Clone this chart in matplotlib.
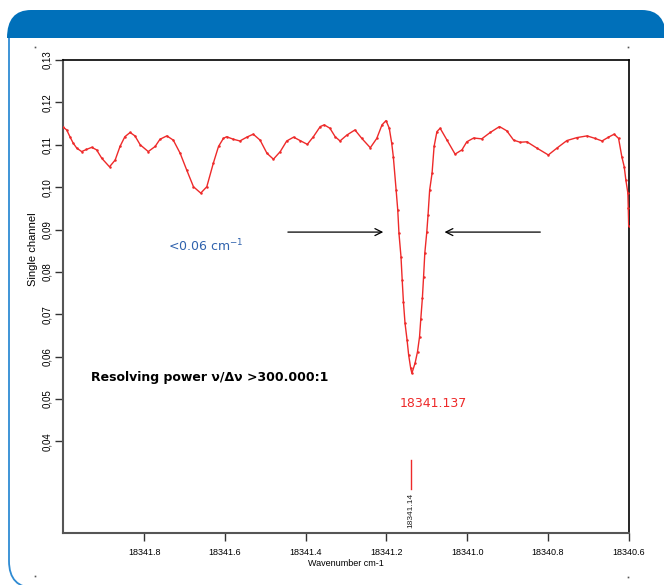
import matplotlib
matplotlib.use("Agg")
import matplotlib.pyplot as plt
from matplotlib.path import Path
from matplotlib.patches import PathPatch
from matplotlib.lines import Line2D
from matplotlib.transforms import IdentityTransform

# spectrum (wavenumber in cm-1, single channel signal)
wavenumber = [
    18342.000, 18341.992, 18341.984, 18341.976, 18341.967, 18341.955, 18341.943,
    18341.930, 18341.918, 18341.905, 18341.886, 18341.872, 18341.860, 18341.848,
    18341.835, 18341.823, 18341.810, 18341.790, 18341.773, 18341.761, 18341.744,
    18341.728, 18341.711, 18341.695, 18341.678, 18341.660, 18341.645, 18341.629,
    18341.616, 18341.604, 18341.596, 18341.579, 18341.563, 18341.546, 18341.530,
    18341.513, 18341.496, 18341.480, 18341.463, 18341.447, 18341.430, 18341.414,
    18341.396, 18341.381, 18341.364, 18341.354, 18341.340, 18341.327, 18341.315,
    18341.298, 18341.278, 18341.261, 18341.240, 18341.224, 18341.211, 18341.201,
    18341.193, 18341.187, 18341.183, 18341.176, 18341.172, 18341.169, 18341.164,
    18341.161, 18341.158, 18341.154, 18341.149, 18341.145, 18341.140, 18341.137,
    18341.129, 18341.123, 18341.118, 18341.115, 18341.111, 18341.108, 18341.105,
    18341.100, 18341.097, 18341.093, 18341.087, 18341.082, 18341.075, 18341.067,
    18341.050, 18341.030, 18341.013, 18341.001, 18340.984, 18340.964, 18340.943,
    18340.920, 18340.902, 18340.885, 18340.869, 18340.852, 18340.827, 18340.799,
    18340.778, 18340.753, 18340.728, 18340.703, 18340.683, 18340.666, 18340.650,
    18340.636, 18340.625, 18340.617, 18340.611, 18340.607, 18340.602, 18340.601,
    18340.600,
]
signal = [
    0.1141, 0.1135, 0.1119, 0.1104, 0.1092, 0.1084, 0.1089,
    0.1094, 0.1088, 0.1068, 0.1048, 0.1064, 0.1096, 0.1119,
    0.1129, 0.1121, 0.1100, 0.1084, 0.1096, 0.1113, 0.1121,
    0.1111, 0.1080, 0.1041, 0.1001, 0.0986, 0.1001, 0.1056,
    0.1096, 0.1115, 0.1119, 0.1113, 0.1109, 0.1118, 0.1125,
    0.1111, 0.1080, 0.1066, 0.1084, 0.1109, 0.1118, 0.1110,
    0.1101, 0.1119, 0.1143, 0.1147, 0.1139, 0.1119, 0.1109,
    0.1123, 0.1135, 0.1115, 0.1093, 0.1115, 0.1147, 0.1157,
    0.1139, 0.1104, 0.1072, 0.0993, 0.0946, 0.0891, 0.0836,
    0.0781, 0.0730, 0.0679, 0.0640, 0.0604, 0.0573, 0.0561,
    0.0585, 0.0612, 0.0647, 0.0688, 0.0738, 0.0789, 0.0844,
    0.0895, 0.0934, 0.0993, 0.1033, 0.1096, 0.1131, 0.1139,
    0.1111, 0.1078, 0.1088, 0.1107, 0.1116, 0.1114, 0.1129,
    0.1143, 0.1133, 0.1111, 0.1106, 0.1107, 0.1092, 0.1076,
    0.1092, 0.1110, 0.1117, 0.1121, 0.1115, 0.1109, 0.1118,
    0.1125, 0.1115, 0.1072, 0.1048, 0.1017, 0.0986, 0.0950,
    0.0909,
]

x_ticks = [18341.8, 18341.6, 18341.4, 18341.2, 18341.0, 18340.8, 18340.6]
x_tick_labels = ["18341.8", "18341.6", "18341.4", "18341.2", "18341.0", "18340.8", "18340.6"]
y_ticks = [0.04, 0.05, 0.06, 0.07, 0.08, 0.09, 0.10, 0.11, 0.12, 0.13]
y_tick_labels = ["0,04", "0,05", "0,06", "0,07", "0,08", "0,09", "0,10", "0,11", "0,12", "0,13"]

peak_pos = 18341.137
peak_label = "18341.137"
marker_pos = 18341.14
marker_label = "18341.14"
width_label = "<0.06 cm$^{-1}$"
power_label = "Resolving power ν/Δν >300.000:1"

RED = "#ee2a2a"
BLUE = "#0070ba"

fig = plt.figure(figsize=(6.64, 5.85), dpi=100)
fig.patch.set_facecolor("white")

# --- card frame (pixels, origin bottom-left) ---
M, L, C, Z = Path.MOVETO, Path.LINETO, Path.CURVE3, Path.CLOSEPOLY
header = Path([(7, 547), (7, 575), (31, 575), (642, 575), (666, 575), (666, 547), (7, 547)],
              [M, C, C, L, C, C, Z])
fig.patches.append(PathPatch(header, facecolor=BLUE, edgecolor="none",
                             transform=IdentityTransform(), zorder=0))
border = Path([(9, 547), (9, 24), (9, -3), (35, -3)], [M, L, C, C])
fig.patches.append(PathPatch(border, facecolor="none", edgecolor="#2f8bd3", lw=1.3,
                             transform=IdentityTransform(), zorder=0))
for px, py in [(35, 538), (628, 538), (35, 9), (628, 8)]:
    fig.lines.append(Line2D([px], [py], marker="s", ms=1.2, color="#555555",
                            mec="none", transform=IdentityTransform()))

ax = fig.add_axes([0.0956, 0.0889, 0.8512, 0.8085])
ax.set_facecolor("none")

ax.plot(wavenumber, signal, color=RED, lw=1.0, marker=".", ms=1.6, mec=RED, zorder=3)

ax.set_xlim(18342.0, 18340.6)
ax.set_ylim(0.0184, 0.13)

ax.set_xticks(x_ticks, x_tick_labels, fontsize=6.5, family="Liberation Sans")
ax.set_yticks(y_ticks, y_tick_labels, fontsize=7, family="Liberation Sans")
for lab in ax.get_yticklabels():
    lab.set_rotation(90)
    lab.set_va("center")
ax.tick_params(axis="x", direction="out", length=6, width=1, color="#333333", pad=4.5)
ax.tick_params(axis="y", direction="out", length=6, width=1, color="#333333", pad=2)

for side in ["left", "bottom"]:
    ax.spines[side].set_color("#555555")
    ax.spines[side].set_linewidth(1.5)
for side in ["top", "right"]:
    ax.spines[side].set_color("black")
    ax.spines[side].set_linewidth(1.2)

ax.set_xlabel("Wavenumber cm-1", fontsize=6.5, family="Liberation Sans")
ax.xaxis.set_label_coords(0.5, -0.056)
ax.set_ylabel("Single channel", fontsize=8, family="Liberation Sans")
ax.yaxis.set_label_coords(-0.045, 0.6)

# annotations
arrow = dict(arrowstyle="->,head_length=0.5,head_width=0.25", color="black", lw=0.9)
ax.annotate("", xy=(18341.201, 0.0894), xytext=(18341.451, 0.0894), arrowprops=arrow)
ax.annotate("", xy=(18341.063, 0.0894), xytext=(18340.812, 0.0894), arrowprops=arrow)

ax.text(18341.740, 0.0860, width_label, color="#2f62ad", fontsize=9,
        family="DejaVu Sans", va="center", ha="left")
ax.text(18341.933, 0.0550, power_label, color="black", fontsize=9, fontweight="bold",
        family="DejaVu Sans", va="center", ha="left")
ax.text(18341.083, 0.0489, peak_label, color=RED, fontsize=9,
        family="DejaVu Sans", va="center", ha="center")

ax.plot([marker_pos, marker_pos], [0.0288, 0.0357], color=RED, lw=1.0)
ax.text(marker_pos, 0.0279, marker_label, rotation=90, fontsize=6,
        family="Liberation Sans", va="top", ha="center", color="#222222")

fig.savefig("out.png", dpi=100)
